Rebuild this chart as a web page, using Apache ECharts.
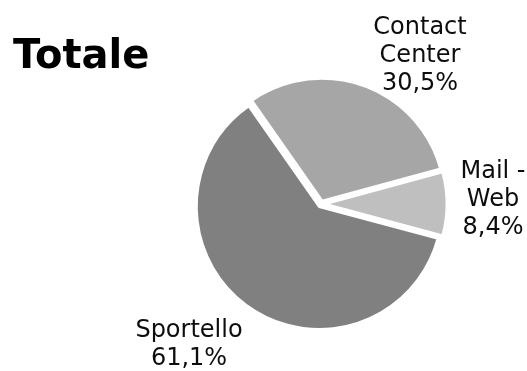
<!DOCTYPE html>
<html><head><meta charset="utf-8">
<script src="https://cdn.jsdelivr.net/npm/echarts@6/dist/echarts.min.js"></script>
<style>html,body{margin:0;padding:0;background:#fff}#c{width:527px;height:371px}</style>
</head><body><div id="c"></div>
<script>
const titleText = 'Totale';
const categories = ['Contact\nCenter', 'Mail -\nWeb', 'Sportello'];
const values = [30.5, 8.4, 61.1];
const colors = ['#a6a6a6', '#bfbfbf', '#808080'];

const fmt = v => v.toFixed(1).replace('.', ',') + '%';
const labelSpots = [[420, 56], [493, 200], [189, 345]];
const labelFont = '24px "DejaVu Sans"';

const chart = echarts.init(document.getElementById('c'), null, {renderer: 'canvas'});
chart.setOption({
  animation: false,
  backgroundColor: '#ffffff',
  title: {
    text: titleText, left: 8, top: 33,
    textStyle: {fontFamily: 'DejaVu Sans', fontWeight: 'bold', fontSize: 40, color: '#000'}
  },
  graphic: categories.map((c, i) => ({
    type: 'text', x: labelSpots[i][0], y: labelSpots[i][1], silent: true,
    style: {
      text: c + '\n' + fmt(values[i]), font: labelFont, fill: '#0d0d0d',
      align: 'center', verticalAlign: 'middle', lineHeight: 28
    }
  })),
  series: [{
    type: 'pie',
    center: [321, 204],
    radius: 123,
    startAngle: 125,
    clockwise: true,
    selectedMode: 'multiple',
    selectedOffset: 3,
    emphasis: {disabled: true},
    itemStyle: {borderColor: '#ffffff', borderWidth: 3},
    label: {show: false},
    labelLine: {show: false},
    data: categories.map((c, i) => ({name: c, value: values[i], selected: true, itemStyle: {color: colors[i]}}))
  }]
});
</script></body></html>
